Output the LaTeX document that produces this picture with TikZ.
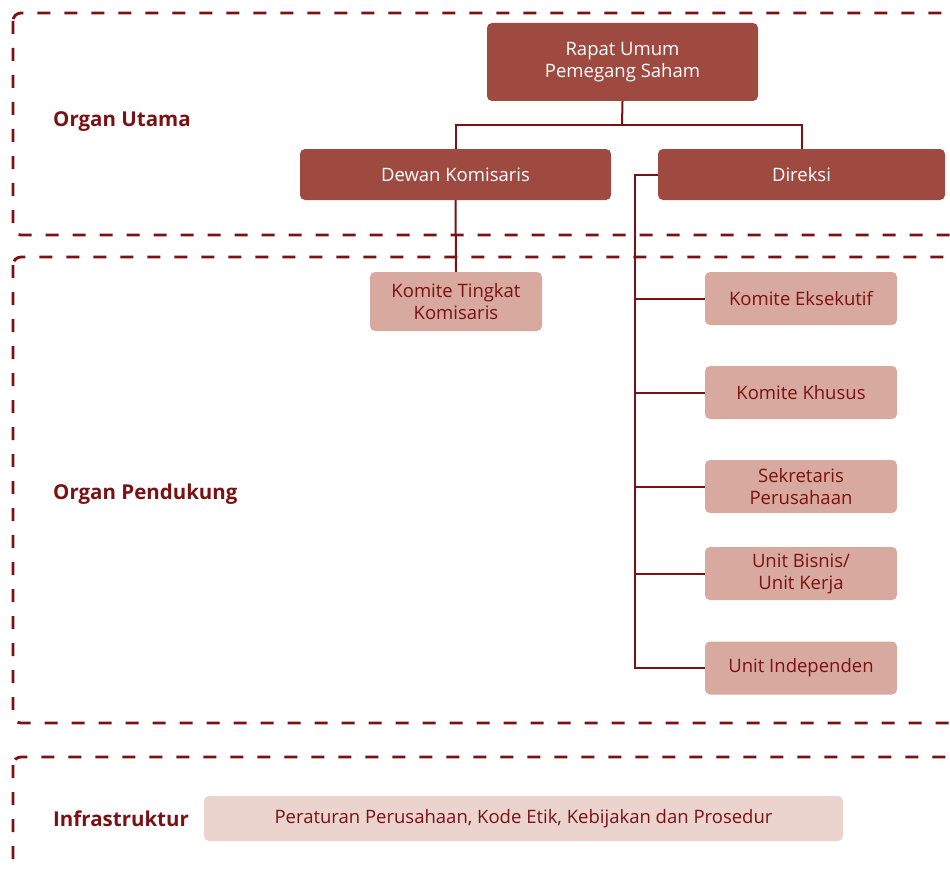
\documentclass[tikz,border=0pt]{standalone}
\usepackage{fontspec}
\setmainfont{Open Sans}
\definecolor{dred}{HTML}{7B1113}
\definecolor{dark}{HTML}{9F4A40}
\definecolor{mid}{HTML}{D8A99E}
\definecolor{pale}{HTML}{EBD4CE}
\tikzset{
  grp/.style={draw=dred, line width=2.8pt, dash pattern=on 13pt off 14pt, rounded corners=8pt},
  darkbox/.style={fill=dark, rounded corners=5pt, text=white, align=center, inner sep=0pt, font=\fontsize{18.5}{22}\selectfont},
  midbox/.style={fill=mid, rounded corners=5pt, text=dred, align=center, inner sep=0pt, minimum width=192pt, minimum height=53pt, font=\fontsize{18.5}{22}\selectfont},
  palebox/.style={fill=pale, rounded corners=5pt, text=dred, align=center, inner sep=0pt, font=\fontsize{18.5}{22}\selectfont},
  lbl/.style={text=dred, anchor=west, inner sep=0pt, yshift=-2.5pt, font=\bfseries\fontsize{20.5}{24}\selectfont},
  conn/.style={draw=dred, line width=2pt}
}
\begin{document}
\begin{tikzpicture}[x=1pt,y=-1pt]
\useasboundingbox (0,0) rectangle (950,872);
\clip (0,0) rectangle (950,872);
% groups
\draw[grp] (13,13) rectangle (980,235);
\draw[grp] (13,257) rectangle (980,723);
\draw[grp] (13,757) rectangle (980,900);
% labels
\node[lbl] (lu) at (53,119) {Organ Utama};
\node[lbl] (lp) at (53,492) {Organ Pendukung};
\node[lbl] (li) at (53,816) {Infrastruktur};
% main nodes
\node[darkbox, minimum width=271pt, minimum height=78pt] (rups) at (622.5,62) {Rapat Umum\\Pemegang Saham};
\node[darkbox, minimum width=311pt, minimum height=51pt] (dk) at (455.5,174.5) {Dewan Komisaris};
\node[darkbox, minimum width=287pt, minimum height=51pt] (dir) at (801.5,174.5) {Direksi};
% supporting
\node[midbox, minimum width=172pt, minimum height=59pt] (ktk) at (456,301.5) {Komite Tingkat\\Komisaris};
\node[midbox] (ke) at (801,298.5) {Komite Eksekutif};
\node[midbox] (kk) at (801,392.5) {Komite Khusus};
\node[midbox] (sp) at (801,486.5) {Sekretaris\\Perusahaan};
\node[midbox] (ub) at (801,573.5) {Unit Bisnis/\\Unit Kerja};
\node[midbox] (ui) at (801,668) {Unit Independen};
\node[palebox, minimum width=639pt, minimum height=45pt] (inf) at (523.5,818.5) {Peraturan Perusahaan, Kode Etik, Kebijakan dan Prosedur};
% connectors
\coordinate (j) at (622,125);
\coordinate (bx) at (635,174.5);
\draw[conn] (rups.south) -- (j);
\draw[conn] (j) -| (dk.north);
\draw[conn] (j) -| (dir.north);
\draw[conn] (dk.south) -- (ktk.north);
\draw[conn] (dir.west) -- (bx) |- (ui.west);
\foreach \n in {ke,kk,sp,ub} \draw[conn] (bx |- \n.west) -- (\n.west);
\end{tikzpicture}
\end{document}
